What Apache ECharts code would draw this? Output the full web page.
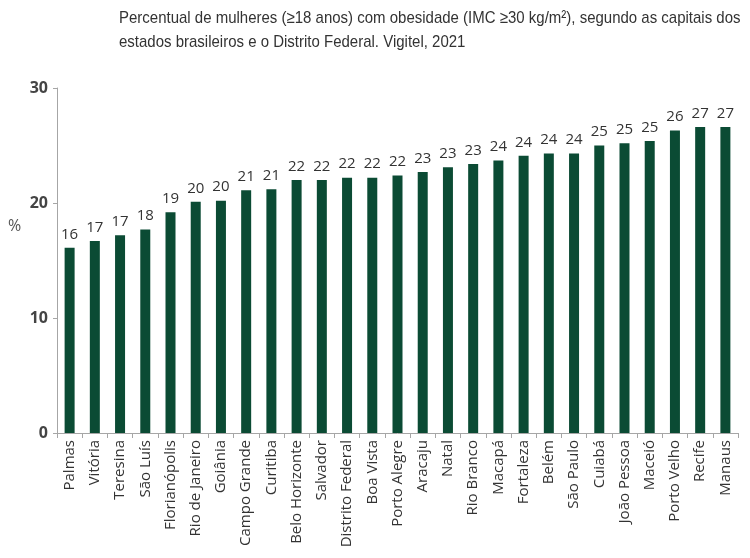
<!DOCTYPE html>
<html>
<head>
<meta charset="utf-8">
<script src="https://cdn.jsdelivr.net/npm/echarts@6/dist/echarts.min.js"></script>
<style>html,body{margin:0;padding:0;background:#fff}#c{width:750px;height:558px}</style>
</head>
<body>
<div id="c"></div>
<script>
const categories = ["Palmas","Vitória","Teresina","São Luís","Florianópolis","Rio de Janeiro","Goiânia","Campo Grande","Curitiba","Belo Horizonte","Salvador","Distrito Federal","Boa Vista","Porto Alegre","Aracaju","Natal","Rio Branco","Macapá","Fortaleza","Belém","São Paulo","Cuiabá","João Pessoa","Maceió","Porto Velho","Recife","Manaus"];
const values = [16.1,16.7,17.2,17.7,19.2,20.1,20.2,21.1,21.2,22.0,22.0,22.2,22.2,22.4,22.7,23.1,23.4,23.7,24.1,24.3,24.3,25.0,25.2,25.4,26.3,26.6,26.6];
const yTicks = [0,10,20,30];
const titleLine1 = "Percentual de mulheres (≥18 anos) com obesidade (IMC ≥30 kg/m²), segundo as capitais dos";
const titleLine2 = "estados brasileiros e o Distrito Federal. Vigitel, 2021";
const unitLabel = "%";

const chart = echarts.init(document.getElementById('c'));
const titleFont = '17px "Liberation Sans", sans-serif';
chart.setOption({
  animation: false,
  backgroundColor: '#fff',
  graphic: [
    {type: 'text', x: 119, y: 10, scaleX: 0.882, style: {text: titleLine1, font: titleFont, fill: '#333'}},
    {type: 'text', x: 119, y: 34, scaleX: 0.882, style: {text: titleLine2, font: titleFont, fill: '#333'}},
    {type: 'text', x: 8, y: 218, style: {text: unitLabel, font: '16px "Open Sans", sans-serif', fill: '#555'}}
  ],
  grid: {left: 57, right: 12, top: 88, bottom: 125},
  xAxis: {
    type: 'category', data: categories,
    axisLine: {lineStyle: {color: '#a6a6a6'}},
    axisTick: {show: true, length: 5, lineStyle: {color: '#a6a6a6'}},
    axisLabel: {rotate: 90, interval: 0, fontSize: 15, color: '#333', fontFamily: 'Open Sans, sans-serif', margin: 7}
  },
  yAxis: {
    type: 'value', min: yTicks[0], max: yTicks[yTicks.length-1], interval: 10,
    axisLine: {show: true, lineStyle: {color: '#a6a6a6'}},
    axisTick: {show: true, length: 4, lineStyle: {color: '#a6a6a6'}},
    splitLine: {show: false},
    axisLabel: {fontSize: 16, fontWeight: 'bold', color: '#444', fontFamily: 'Open Sans, sans-serif', margin: 9}
  },
  series: [{
    type: 'bar', data: values, barWidth: 10,
    itemStyle: {color: '#0b4b34'},
    label: {show: true, position: 'top', distance: 6, fontSize: 15, color: '#333', fontFamily: 'Open Sans, sans-serif',
      formatter: p => Math.round(p.value)}
  }]
});
</script>
</body>
</html>
